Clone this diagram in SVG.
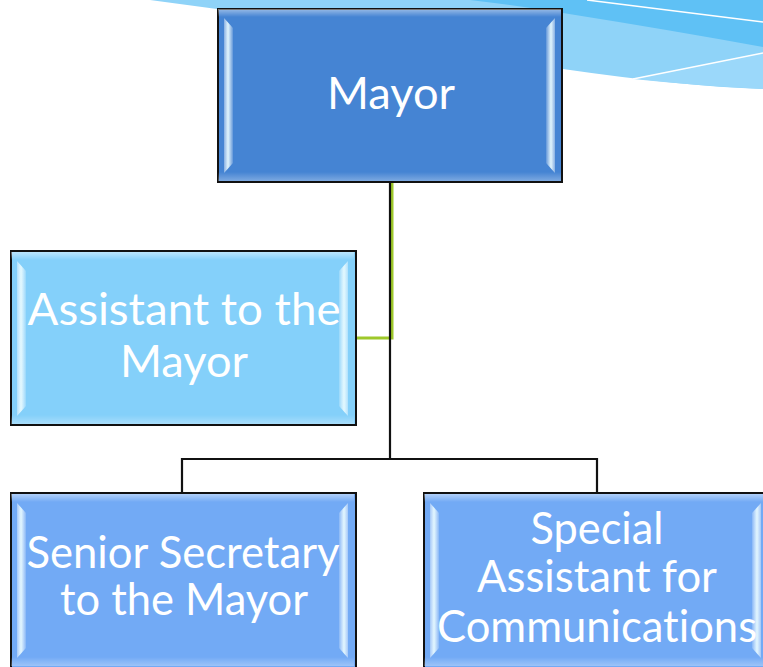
<svg xmlns="http://www.w3.org/2000/svg" xmlns:xlink="http://www.w3.org/1999/xlink" width="763" height="667" viewBox="0 0 763 667">
<style>
.box{stroke:#111;stroke-width:2}
.mayor{fill:#4584d3}
.asst{fill:#84d0fa}
.staff{fill:#72aaf5}
.lbl{font-family:Lato,"Liberation Sans",sans-serif;font-size:44px;fill:#fff;text-anchor:middle;font-variant-ligatures:none}
.conn{fill:none;stroke:#111;stroke-width:2.2}
.green{fill:none;stroke:#9ec82a;stroke-width:3}
</style>
<defs>
<linearGradient id="topband" x1="0" y1="0" x2="0" y2="1">
<stop offset="0" stop-color="#fff" stop-opacity="0.45"/>
<stop offset="1" stop-color="#fff" stop-opacity="0"/>
</linearGradient>
<linearGradient id="botband" x1="0" y1="0" x2="0" y2="1">
<stop offset="0" stop-color="#fff" stop-opacity="0"/>
<stop offset="1" stop-color="#fff" stop-opacity="0.3"/>
</linearGradient>
<linearGradient id="lstrip" x1="0" y1="0" x2="1" y2="0">
<stop offset="0" stop-color="#fff" stop-opacity="0.35"/>
<stop offset="0.45" stop-color="#e8fbff" stop-opacity="0.95"/>
<stop offset="1" stop-color="#fff" stop-opacity="0.15"/>
</linearGradient>
<linearGradient id="rstrip" x1="1" y1="0" x2="0" y2="0">
<stop offset="0" stop-color="#fff" stop-opacity="0.35"/>
<stop offset="0.45" stop-color="#e8fbff" stop-opacity="0.95"/>
<stop offset="1" stop-color="#fff" stop-opacity="0.15"/>
</linearGradient>
<g id="bevel">
<rect x="1" y="1" width="343" height="8" fill="url(#topband)"/>
<rect x="1" y="164" width="343" height="9" fill="url(#botband)"/>
<polygon points="7,10 16,20 16,155 7,165" fill="url(#lstrip)"/>
<polygon points="338,10 329,20 329,155 338,165" fill="url(#rstrip)"/>
</g>
</defs>
<g id="background">
<path d="M150,0 L217,9 Q400,45 563,69 Q680,86 763,89 L763,0 Z" fill="#8fd3f8"/>
<path d="M633,79 L763,53 L763,89 Q700,86 633,79 Z" fill="#9bd8fa"/>
<path d="M470,0 Q520,6 563,13 Q670,30 763,47 L763,0 Z" fill="#5fc1f5"/>
<path d="M587,0 L763,22" stroke="#fff" stroke-width="1.5" fill="none"/>
<path d="M633,79 L763,53" stroke="#fff" stroke-width="1.5" fill="none"/>
</g>
<g id="connectors">
<path class="green" d="M392,183 V338 H356"/>
<path class="conn" d="M390,183 V459"/>
<path class="conn" d="M182,459 H597 M182,458 V493 M597,458 V493"/>
</g>
<g id="node-mayor">
<rect class="box mayor" x="218" y="9" width="344" height="173"/>
<use xlink:href="#bevel" x="217" y="8"/>
<text class="lbl" x="391" y="109" textLength="128" lengthAdjust="spacingAndGlyphs">Mayor</text>
</g>
<g id="node-assistant">
<rect class="box asst" x="11" y="251" width="345" height="174"/>
<use xlink:href="#bevel" x="10" y="251"/>
<text class="lbl" x="184" y="325" textLength="313" lengthAdjust="spacingAndGlyphs">Assistant to the</text>
<text class="lbl" x="184" y="377" textLength="128" lengthAdjust="spacingAndGlyphs">Mayor</text>
</g>
<g id="node-senior">
<rect class="box staff" x="11" y="493" width="345" height="176"/>
<use xlink:href="#bevel" x="10" y="493"/>
<text class="lbl" x="183" y="568" textLength="313" lengthAdjust="spacingAndGlyphs">Senior Secretary</text>
<text class="lbl" x="184" y="615" textLength="248" lengthAdjust="spacingAndGlyphs">to the Mayor</text>
</g>
<g id="node-special">
<rect class="box staff" x="424" y="493" width="345" height="176"/>
<use xlink:href="#bevel" x="423" y="493"/>
<text class="lbl" x="597" y="544" textLength="133" lengthAdjust="spacingAndGlyphs">Special</text>
<text class="lbl" x="597" y="592" textLength="240" lengthAdjust="spacingAndGlyphs">Assistant for</text>
<text class="lbl" x="597" y="642" textLength="320" lengthAdjust="spacingAndGlyphs">Communications</text>
</g>
</svg>
